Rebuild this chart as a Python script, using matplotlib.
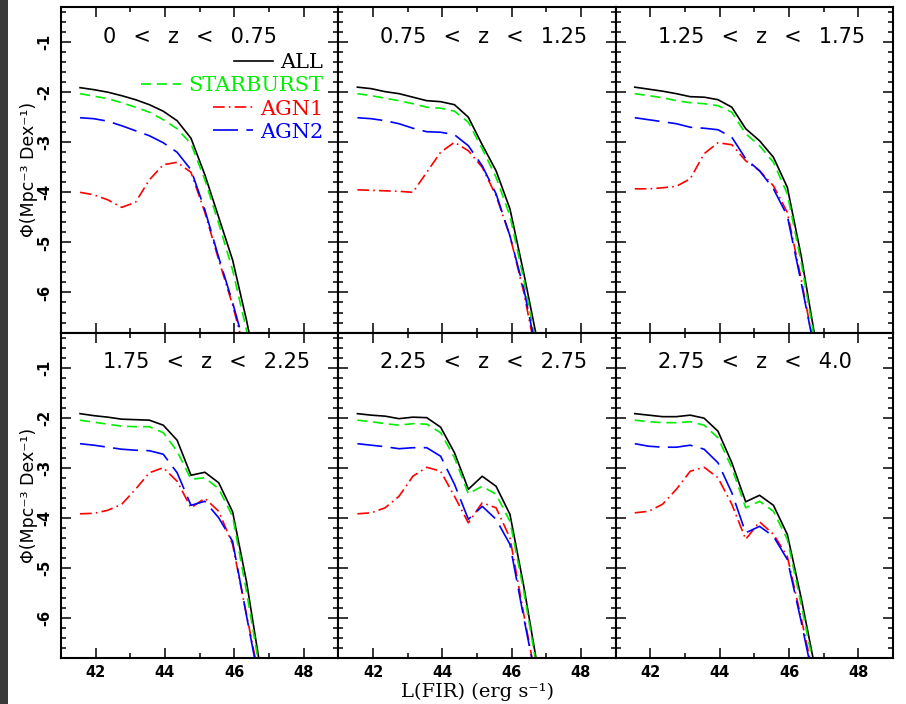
import matplotlib
matplotlib.use('Agg')
import matplotlib.pyplot as plt
from matplotlib.ticker import MultipleLocator
from matplotlib.patches import Rectangle

plt.rcParams['axes.unicode_minus'] = False

# log L(FIR) grid shared by every curve
lfir = [41.55, 41.95, 42.35, 42.75, 43.15, 43.55, 43.95, 44.35, 44.75, 45.15, 45.55, 45.95, 46.35, 46.75]

sp2 = ' \u2002'
z_bins = ['0' + sp2 + '<' + sp2 + 'z' + sp2 + '<' + sp2 + '0.75',
          '0.75' + sp2 + '<' + sp2 + 'z' + sp2 + '<' + sp2 + '1.25',
          '1.25' + sp2 + '<' + sp2 + 'z' + sp2 + '<' + sp2 + '1.75',
          '1.75' + sp2 + '<' + sp2 + 'z' + sp2 + '<' + sp2 + '2.25',
          '2.25' + sp2 + '<' + sp2 + 'z' + sp2 + '<' + sp2 + '2.75',
          '2.75' + sp2 + '<' + sp2 + 'z' + sp2 + '<' + sp2 + '4.0']

all_1 = [-1.91, -1.95, -2.00, -2.07, -2.15, -2.25, -2.38, -2.57, -2.92, -3.65, -4.50, -5.35, -6.55, -7.9]
sb_1 = [-2.03, -2.08, -2.13, -2.21, -2.30, -2.40, -2.55, -2.73, -3.03, -3.75, -4.62, -5.55, -6.75, -8.1]
agn1_1 = [-4.00, -4.05, -4.15, -4.30, -4.20, -3.75, -3.45, -3.40, -3.60, -4.40, -5.35, -6.25, -7.3, -8.4]
agn2_1 = [-2.51, -2.53, -2.58, -2.67, -2.77, -2.87, -3.01, -3.20, -3.55, -4.35, -5.30, -6.20, -7.2, -8.3]

all_2 = [-1.90, -1.93, -1.99, -2.03, -2.10, -2.17, -2.19, -2.25, -2.50, -3.05, -3.57, -4.33, -5.62, -7.0]
sb_2 = [-2.03, -2.07, -2.12, -2.17, -2.23, -2.30, -2.32, -2.38, -2.60, -3.13, -3.70, -4.47, -5.75, -7.2]
agn1_2 = [-3.95, -3.96, -3.97, -3.98, -4.00, -3.60, -3.20, -3.00, -3.17, -3.50, -4.07, -4.87, -6.00, -7.4]
agn2_2 = [-2.51, -2.53, -2.57, -2.63, -2.72, -2.79, -2.80, -2.85, -3.07, -3.47, -4.03, -4.87, -5.93, -7.3]

all_3 = [-1.90, -1.94, -1.98, -2.03, -2.09, -2.10, -2.15, -2.30, -2.73, -2.97, -3.30, -3.90, -5.27, -6.9]
sb_3 = [-2.03, -2.07, -2.11, -2.17, -2.21, -2.23, -2.27, -2.40, -2.83, -3.07, -3.40, -4.03, -5.40, -7.0]
agn1_3 = [-3.93, -3.93, -3.91, -3.88, -3.73, -3.23, -3.01, -3.05, -3.37, -3.57, -3.87, -4.40, -5.73, -7.2]
agn2_3 = [-2.51, -2.55, -2.59, -2.63, -2.70, -2.72, -2.75, -2.90, -3.33, -3.57, -3.93, -4.47, -5.80, -7.2]

all_4 = [-1.92, -1.96, -1.99, -2.03, -2.04, -2.05, -2.15, -2.45, -3.15, -3.09, -3.30, -3.88, -5.27, -7.0]
sb_4 = [-2.05, -2.09, -2.13, -2.17, -2.18, -2.18, -2.30, -2.67, -3.23, -3.20, -3.42, -3.97, -5.47, -7.1]
agn1_4 = [-3.92, -3.91, -3.85, -3.73, -3.43, -3.10, -3.00, -3.27, -3.80, -3.61, -3.87, -4.53, -5.93, -7.3]
agn2_4 = [-2.52, -2.55, -2.59, -2.63, -2.65, -2.66, -2.73, -3.10, -3.75, -3.67, -4.00, -4.47, -5.95, -7.4]

all_5 = [-1.92, -1.95, -1.97, -2.02, -1.99, -2.00, -2.19, -2.70, -3.43, -3.17, -3.37, -3.93, -5.37, -7.0]
sb_5 = [-2.05, -2.08, -2.12, -2.15, -2.12, -2.13, -2.30, -2.80, -3.52, -3.37, -3.53, -4.07, -5.47, -7.1]
agn1_5 = [-3.92, -3.90, -3.80, -3.57, -3.17, -2.99, -3.07, -3.57, -4.10, -3.70, -3.80, -4.40, -5.93, -7.4]
agn2_5 = [-2.52, -2.55, -2.58, -2.62, -2.60, -2.60, -2.77, -3.33, -4.03, -3.77, -4.03, -4.53, -6.00, -7.4]

all_6 = [-1.92, -1.95, -1.98, -1.98, -1.95, -2.01, -2.27, -2.90, -3.68, -3.55, -3.75, -4.33, -5.60, -7.0]
sb_6 = [-2.05, -2.08, -2.10, -2.10, -2.08, -2.15, -2.40, -3.00, -3.80, -3.67, -3.87, -4.43, -5.73, -7.1]
agn1_6 = [-3.90, -3.87, -3.73, -3.43, -3.07, -2.99, -3.20, -3.73, -4.43, -4.08, -4.33, -4.77, -6.00, -7.3]
agn2_6 = [-2.52, -2.57, -2.59, -2.59, -2.55, -2.63, -2.90, -3.50, -4.30, -4.17, -4.37, -4.83, -6.07, -7.4]

all_lf = [all_1, all_2, all_3, all_4, all_5, all_6]
sb_lf = [sb_1, sb_2, sb_3, sb_4, sb_5, sb_6]
agn1_lf = [agn1_1, agn1_2, agn1_3, agn1_4, agn1_5, agn1_6]
agn2_lf = [agn2_1, agn2_2, agn2_3, agn2_4, agn2_5, agn2_6]

lw = 1.2
fig, axes = plt.subplots(2, 3, figsize=(9.06, 7.04), dpi=100, sharex=True, sharey=True)
fig.subplots_adjust(left=0.0673, right=0.9857, top=0.990, bottom=0.0653, wspace=0, hspace=0)

# dark strip at the left edge of the original screenshot
fig.patches.append(Rectangle((0, 0), 8 / 906, 1, transform=fig.transFigure,
                             facecolor='#3a3a3a', edgecolor='none', zorder=-1))

for i, ax in enumerate(axes.flat):
    ax.plot(lfir, all_lf[i], color='black', lw=lw, label='ALL')
    ax.plot(lfir, sb_lf[i], color='#00ee00', lw=lw, ls=(0, (6, 3.5)), label='STARBURST')
    ax.plot(lfir, agn1_lf[i], color='red', lw=lw, ls=(0, (7, 2.5, 1, 2.5)), label='AGN1')
    ax.plot(lfir, agn2_lf[i], color='blue', lw=lw, ls=(0, (15, 5)), label='AGN2')

    ax.set_xlim(41, 49)
    ax.set_ylim(-6.8, -0.3)
    ax.xaxis.set_major_locator(MultipleLocator(2))
    ax.xaxis.set_minor_locator(MultipleLocator(1))
    ax.yaxis.set_major_locator(MultipleLocator(1))
    ax.yaxis.set_minor_locator(MultipleLocator(0.2))
    ax.tick_params(which='both', direction='in', top=True, right=True, width=1.1)
    ax.tick_params(which='major', length=7.2)
    ax.tick_params(which='minor', length=3.6)
    ax.tick_params(axis='x', pad=5, labelsize=10.5)
    ax.tick_params(axis='y', pad=6, labelsize=10.5)
    for lab in ax.get_xticklabels() + ax.get_yticklabels():
        lab.set_fontweight('bold')
    for lab in ax.get_yticklabels():
        lab.set_rotation(90)
        lab.set_va('center')
    for sp in ax.spines.values():
        sp.set_linewidth(1.5)

    ax.text(0.152, 0.908, z_bins[i], transform=ax.transAxes, ha='left', va='center',
            fontsize=15, family='DejaVu Sans')

    if i % 3 == 0:
        ax.set_ylabel('Φ(Mpc⁻³ Dex⁻¹)', fontsize=12.5, family='DejaVu Sans')
        ax.yaxis.set_label_coords(-0.117, 0.5)
        ax.yaxis.label.set_va('center')

axes[1, 1].set_xlabel('L(FIR) (erg s⁻¹)', fontsize=14, family='DejaVu Serif')
axes[1, 1].xaxis.set_label_coords(0.5, -0.104)
axes[1, 1].xaxis.label.set_va('center')

leg = axes[0, 0].legend(loc='upper right', bbox_to_anchor=(0.946, 0.858), frameon=False,
                        borderpad=0, borderaxespad=0, handlelength=1.9, handletextpad=0.35,
                        labelspacing=0.2, prop={'family': 'DejaVu Serif', 'size': 15})
for txt, line in zip(leg.get_texts(), leg.get_lines()):
    txt.set_color(line.get_color())
# right-align the legend rows like the original
for col in leg._legend_handle_box.get_children():
    col.align = 'right'

plt.savefig('out.png', dpi=100)
